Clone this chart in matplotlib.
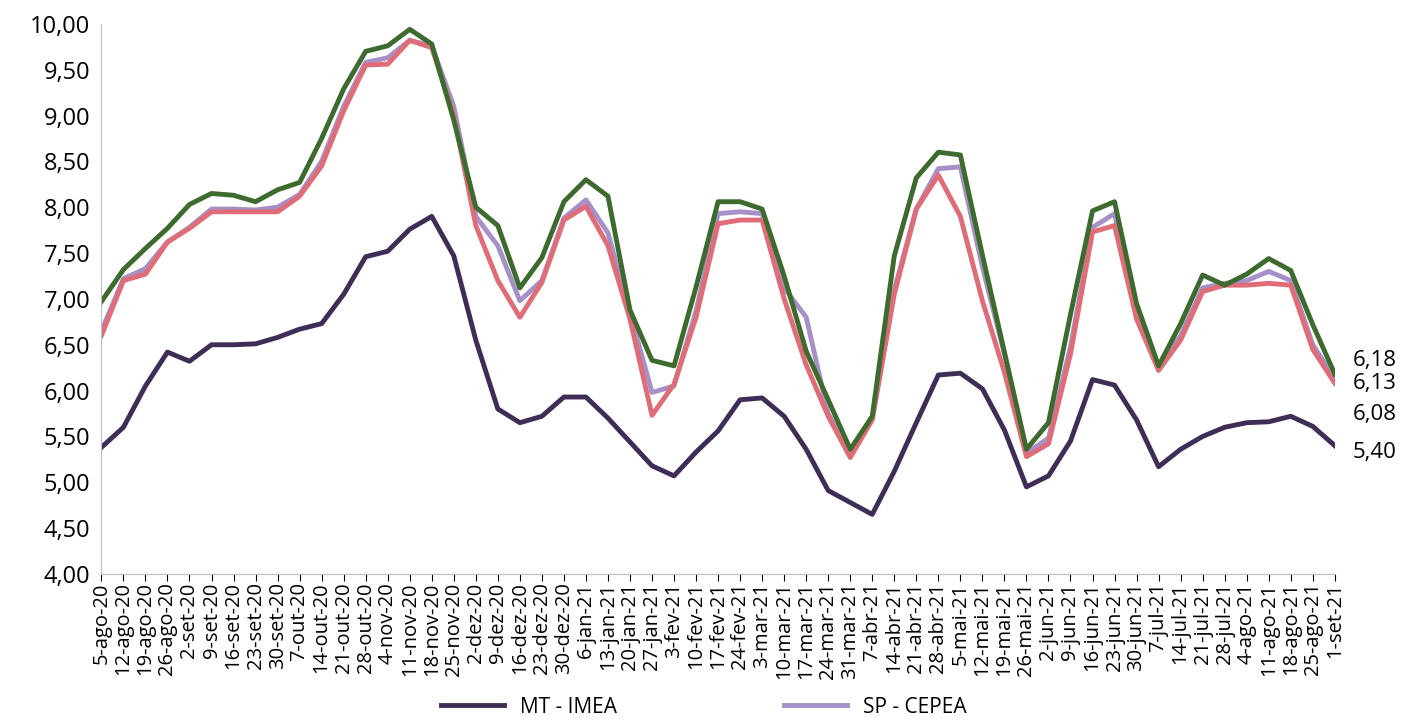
import matplotlib.pyplot as plt

plt.rcParams['font.family'] = ['Open Sans', 'DejaVu Sans']

dates = ["5-ago-20", "12-ago-20", "19-ago-20", "26-ago-20", "2-set-20", "9-set-20", "16-set-20",
         "23-set-20", "30-set-20", "7-out-20", "14-out-20", "21-out-20", "28-out-20", "4-nov-20",
         "11-nov-20", "18-nov-20", "25-nov-20", "2-dez-20", "9-dez-20", "16-dez-20", "23-dez-20",
         "30-dez-20", "6-jan-21", "13-jan-21", "20-jan-21", "27-jan-21", "3-fev-21", "10-fev-21",
         "17-fev-21", "24-fev-21", "3-mar-21", "10-mar-21", "17-mar-21", "24-mar-21", "31-mar-21",
         "7-abr-21", "14-abr-21", "21-abr-21", "28-abr-21", "5-mai-21", "12-mai-21", "19-mai-21",
         "26-mai-21", "2-jun-21", "9-jun-21", "16-jun-21", "23-jun-21", "30-jun-21", "7-jul-21",
         "14-jul-21", "21-jul-21", "28-jul-21", "4-ago-21", "11-ago-21", "18-ago-21", "25-ago-21",
         "1-set-21"]

mt_imea = [5.38, 5.60, 6.05, 6.42, 6.32, 6.50, 6.50, 6.51, 6.58, 6.67, 6.73, 7.05, 7.46, 7.52,
           7.76, 7.90, 7.47, 6.55, 5.80, 5.65, 5.72, 5.93, 5.93, 5.70, 5.44, 5.18, 5.07, 5.33,
           5.56, 5.90, 5.92, 5.72, 5.36, 4.91, 4.78, 4.65, 5.12, 5.65, 6.17, 6.19, 6.02, 5.57,
           4.95, 5.07, 5.45, 6.12, 6.06, 5.68, 5.17, 5.36, 5.50, 5.60, 5.65, 5.66, 5.72, 5.61, 5.40]

sp_cepea = [6.65, 7.22, 7.33, 7.62, 7.78, 7.98, 7.98, 7.97, 8.00, 8.14, 8.50, 9.10, 9.58, 9.63,
            9.82, 9.76, 9.10, 7.90, 7.58, 6.98, 7.20, 7.88, 8.08, 7.72, 6.85, 5.98, 6.05, 6.87,
            7.93, 7.95, 7.93, 7.12, 6.80, 5.75, 5.33, 5.70, 7.10, 7.98, 8.42, 8.44, 7.35, 6.40,
            5.32, 5.48, 6.48, 7.78, 7.93, 6.82, 6.25, 6.60, 7.12, 7.17, 7.20, 7.30, 7.20, 6.50, 6.13]

pink = [6.60, 7.20, 7.27, 7.62, 7.77, 7.95, 7.95, 7.95, 7.95, 8.12, 8.45, 9.05, 9.55, 9.56,
        9.82, 9.74, 9.00, 7.80, 7.20, 6.80, 7.18, 7.86, 8.01, 7.58, 6.78, 5.73, 6.07, 6.80,
        7.82, 7.86, 7.86, 7.00, 6.28, 5.72, 5.27, 5.68, 7.05, 7.98, 8.35, 7.90, 6.98, 6.20,
        5.28, 5.42, 6.40, 7.73, 7.80, 6.78, 6.22, 6.55, 7.08, 7.15, 7.15, 7.17, 7.15, 6.45, 6.08]

green = [6.97, 7.32, 7.55, 7.77, 8.03, 8.15, 8.13, 8.06, 8.19, 8.27, 8.75, 9.29, 9.70, 9.76,
         9.94, 9.78, 8.95, 8.00, 7.80, 7.12, 7.45, 8.06, 8.30, 8.12, 6.88, 6.33, 6.27, 7.13,
         8.06, 8.06, 7.98, 7.25, 6.43, 5.90, 5.36, 5.72, 7.47, 8.32, 8.60, 8.57, 7.48, 6.42,
         5.36, 5.65, 6.83, 7.96, 8.06, 6.95, 6.27, 6.73, 7.26, 7.15, 7.27, 7.44, 7.31, 6.72, 6.18]

end_labels = ["6,18", "6,13", "6,08", "5,40"]
end_y = [6.33, 6.08, 5.74, 5.32]

fig = plt.figure(figsize=(14.08, 7.22), dpi=100)
ax = fig.add_axes([0.072, 0.205, 0.876, 0.762])
x = range(len(dates))
l1, = ax.plot(x, mt_imea, color='#3f2d57', lw=3.5, label='MT - IMEA')
l2, = ax.plot(x, sp_cepea, color='#a591c8', lw=3.5, label='SP - CEPEA')
ax.plot(x, pink, color='#e06c78', lw=3.5)
ax.plot(x, green, color='#3d6b2e', lw=3.5)

for t, yv in zip(end_labels, end_y):
    ax.text(56.8, yv, t, fontsize=16, va='center', ha='left')

ax.set_xlim(0, 56)
ax.set_ylim(4, 10)
ax.set_yticks([4 + 0.5 * i for i in range(13)])
ax.set_yticklabels([f"{4 + 0.5 * i:.2f}".replace('.', ',') for i in range(13)], fontsize=17)
ax.set_xticks(list(x))
ax.set_xticklabels(dates, rotation=90, fontsize=14.5)
ax.tick_params(axis='x', length=5, pad=1)
ax.tick_params(axis='y', length=0, pad=8)
for s in ['top', 'right']:
    ax.spines[s].set_visible(False)
ax.spines['left'].set_color('#bfbfbf')
ax.spines['bottom'].set_color('#bfbfbf')

fig.legend(handles=[l1, l2], loc='lower center', ncol=2, frameon=False, fontsize=15,
           bbox_to_anchor=(0.5, -0.02), columnspacing=8, handlelength=3)
fig.savefig('out.png')
